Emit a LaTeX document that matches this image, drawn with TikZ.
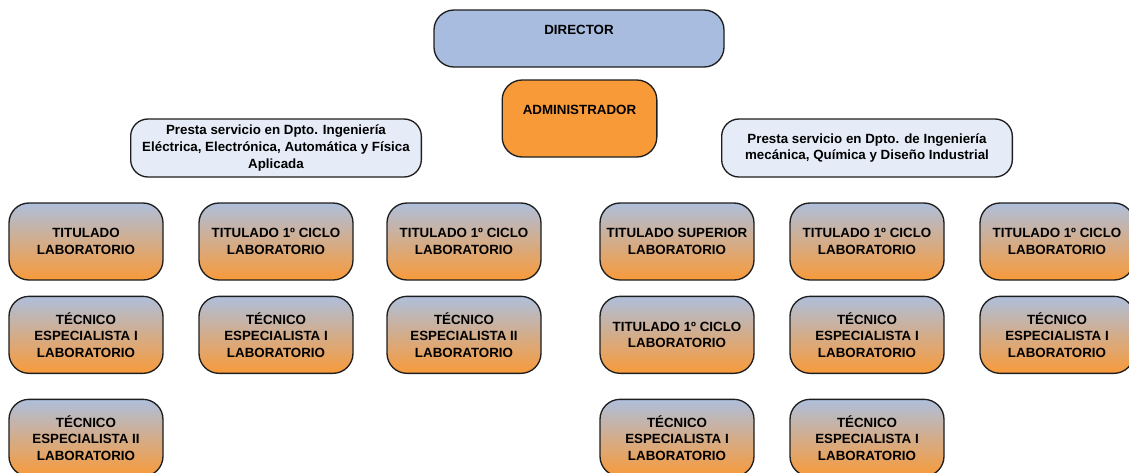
\documentclass[tikz,border=0pt]{standalone}
\usepackage{fontspec}
\setmainfont{Liberation Sans}
\usetikzlibrary{positioning}

\definecolor{jefeblue}{HTML}{A8BCDF}
\definecolor{adminorange}{HTML}{F99A38}
\definecolor{deptfill}{HTML}{E6ECF7}
\definecolor{topgrey}{HTML}{AEBFDB}
\definecolor{botorange}{HTML}{F89A3A}
\definecolor{edge}{HTML}{1E1E1E}

\begin{document}
\begin{tikzpicture}[
  x=0.75pt, y=-0.75pt,
  node distance=11.25pt and 26pt,
  box/.style={draw=edge, line width=1pt, rounded corners=15pt, align=center,
    inner sep=2pt, font=\bfseries\fontsize{10}{12.4}\selectfont},
  boss/.style={box, fill=jefeblue, minimum width=217.5pt, minimum height=42.75pt,
    text height=7.2pt, text depth=12.8pt},
  admin/.style={box, fill=adminorange, minimum width=116pt, minimum height=57.75pt,
    text height=7.2pt, text depth=12.8pt},
  dept/.style={box, fill=deptfill, rounded corners=13pt, minimum width=218pt,
    minimum height=43.5pt},
  puesto/.style={box, top color=topgrey, bottom color=botorange,
    minimum width=115.5pt, minimum height=57.75pt},
]
\useasboundingbox (0,0) rectangle (1129,472);

\node[boss] (director) at (579,38.5) {DIRECTOR};
\node[admin] (admin) at (579.5,118.5) {ADMINISTRADOR};

\node[puesto] (a1) at (86,241.5) {TITULADO\\LABORATORIO};
\node[puesto, right=of a1] (a2) {TITULADO 1º CICLO\\LABORATORIO};
\node[puesto, right=24.5pt of a2] (a3) {TITULADO 1º CICLO\\LABORATORIO};
\node[puesto, below=of a1] (a4) {TÉCNICO\\ESPECIALISTA I\\LABORATORIO};
\node[puesto, below=of a2] (a5) {TÉCNICO\\ESPECIALISTA I\\LABORATORIO};
\node[puesto, below=of a3] (a6) {TÉCNICO\\ESPECIALISTA II\\LABORATORIO};
\node[puesto, below=18.5pt of a4] (a7) {TÉCNICO\\ESPECIALISTA II\\LABORATORIO};

\node[puesto, right=43.25pt of a3] (b1) {TITULADO SUPERIOR\\LABORATORIO};
\node[puesto, right=of b1] (b2) {TITULADO 1º CICLO\\LABORATORIO};
\node[puesto, right=of b2] (b3) {TITULADO 1º CICLO\\LABORATORIO};
\node[puesto, below=of b1] (b4) {TITULADO 1º CICLO\\LABORATORIO};
\node[puesto, below=of b2] (b5) {TÉCNICO\\ESPECIALISTA I\\LABORATORIO};
\node[puesto, below=of b3] (b6) {TÉCNICO\\ESPECIALISTA I\\LABORATORIO};
\node[puesto, below=18.5pt of b4] (b7) {TÉCNICO\\ESPECIALISTA I\\LABORATORIO};
\node[puesto, below=18.5pt of b5] (b8) {TÉCNICO\\ESPECIALISTA I\\LABORATORIO};

\node[dept, above=18.5pt of a2] (deptA) {Presta servicio en Dpto. Ingeniería\\Eléctrica, Electrónica, Automática y Física\\Aplicada};
\node[dept, above=18.5pt of b2] (deptB) {Presta servicio en Dpto. de Ingeniería\\mecánica, Química y Diseño Industrial};
\end{tikzpicture}
\end{document}
